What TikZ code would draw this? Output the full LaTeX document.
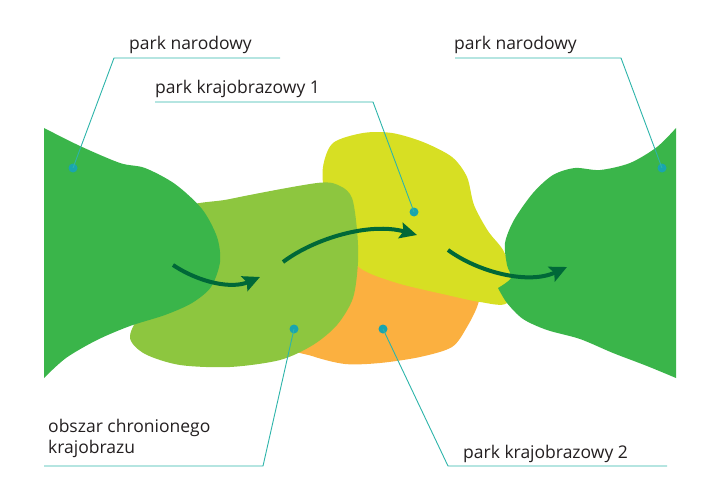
\documentclass[tikz,border=0pt]{standalone}
\usepackage{fontspec}
\setmainfont{Open Sans}
\usetikzlibrary{arrows.meta}
\definecolor{npgreen}{RGB}{58,181,74}
\definecolor{ochkgreen}{RGB}{141,198,63}
\definecolor{pkyellow}{RGB}{215,223,35}
\definecolor{pkorange}{RGB}{251,176,64}
\definecolor{flowgreen}{RGB}{0,104,56}
\definecolor{leadcol}{RGB}{45,180,170}
\definecolor{dotcol}{RGB}{25,165,175}
\definecolor{textgray}{RGB}{35,31,32}

\begin{document}
\begin{tikzpicture}[x=1pt,y=-1pt,
                parkname/.style={anchor=base west,inner sep=0pt,text=textgray,font=\fontsize{17.5}{21}\selectfont},
                pin/.style={circle,fill=dotcol,inner sep=0pt,minimum size=9pt},
                leaderline/.style={draw=leadcol,line width=0.9pt},
                flowarrow/.style={draw=flowgreen,line width=4pt,-{Stealth[length=17pt,width=16pt,inset=3pt]}}]
                \useasboundingbox (0,0) rectangle (720,500);

                \fill[pkorange] plot[smooth cycle] coordinates {(355,262) (420,274) (476,290) (478,304) (467,327) (452,347) (420,357) (380,363) (345,364) (312,356) (290,345) (320,300)};
                \fill[pkyellow] plot[smooth cycle] coordinates {(323,167) (333,143) (363,133) (392,133) (423,142) (452,157) (467,177) (474,205) (488,231) (503,250) (511,272) (507,303) (480,302) (447,295) (397,283) (360,268) (340,240) (325,195)};
                \fill[ochkgreen] plot[smooth cycle] coordinates {(180,212) (230,199) (317,183) (340,186) (352,198) (357,230) (358,262) (353,298) (337,325) (313,345) (280,360) (230,367) (180,365) (145,354) (130,338) (140,315) (170,280)};
                \fill[npgreen] plot[smooth] coordinates {(44,128) (80,146) (120,163) (145,168) (175,184) (202,209) (217,237) (220,262) (211,287) (192,303) (165,315) (130,326) (97,340) (66,358) (44,378)} -- cycle;
                \fill[npgreen] plot[smooth] coordinates {(676,128) (657,147) (630,163) (600,170) (575,168) (553,175) (533,193) (514,220) (505,243) (507,265) (511,278) (498,288)} -- plot[smooth] coordinates {(498,288) (507,303) (523,319) (547,330) (580,339) (613,353) (647,366) (676,378)} -- cycle;

                \coordinate (a1s) at (173,265);
                \coordinate (a1e) at (260,277);
                \coordinate (a2s) at (283,262);
                \coordinate (a2e) at (417,235);
                \coordinate (a3s) at (448,250);
                \coordinate (a3e) at (567,267);
                \draw[flowarrow] (a1s) .. controls (200,283) and (232,289) .. (a1e);
                \draw[flowarrow] (a2s) .. controls (315,238) and (370,222) .. (a2e);
                \draw[flowarrow] (a3s) .. controls (478,272) and (528,285) .. (a3e);

                \node[parkname] (npL) at (129,50) {park narodowy};
                \node[parkname] (pk1) at (155,94) {park krajobrazowy 1};
                \node[parkname] (npR) at (454,50) {park narodowy};
                \node[parkname,align=left] (ochk) at (48,453) {obszar chronionego\\krajobrazu};
                \node[parkname] (pk2) at (463,458) {park krajobrazowy 2};

                \node[pin] (npLdot) at (73,168) {};
                \node[pin] (ochkdot) at (294,329) {};
                \node[pin] (pk1dot) at (414,212) {};
                \node[pin] (pk2dot) at (383,329) {};
                \node[pin] (npRdot) at (662,168) {};

                \coordinate (npLa) at (114,58);
                \coordinate (npLb) at (280,58);
                \coordinate (pk1a) at (155,102);
                \coordinate (pk1b) at (373,102);
                \coordinate (npRa) at (455,58);
                \coordinate (npRb) at (621,58);
                \coordinate (ochka) at (44,466);
                \coordinate (ochkb) at (263,466);
                \coordinate (pk2a) at (448,466);
                \coordinate (pk2b) at (667,466);

                \draw[leaderline] (npLdot.center) -- (npLa) -- (npLb);
                \draw[leaderline] (pk1dot.center) -- (pk1b) -- (pk1a);
                \draw[leaderline] (npRdot.center) -- (npRb) -- (npRa);
                \draw[leaderline] (ochkdot.center) -- (ochkb) -- (ochka);
                \draw[leaderline] (pk2dot.center) -- (pk2a) -- (pk2b);
            \end{tikzpicture}
\end{document}
